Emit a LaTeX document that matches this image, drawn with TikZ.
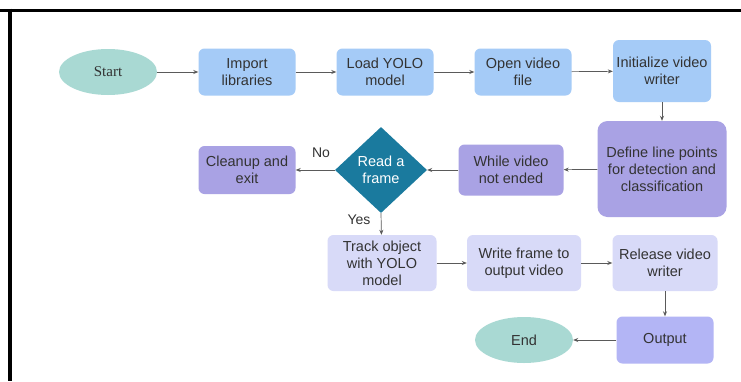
\documentclass[tikz,border=0pt]{standalone}
\usepackage{fontspec}
\setmainfont{Liberation Sans}
\newfontfamily\serifface{Liberation Serif}
\usetikzlibrary{shapes.geometric,arrows.meta}
\definecolor{ellc}{HTML}{A9D9D3}
\definecolor{bluec}{HTML}{A5CBF7}
\definecolor{purc}{HTML}{A9A2E4}
\definecolor{diac}{HTML}{1A7A9E}
\definecolor{lavc}{HTML}{D8DAF8}
\definecolor{outc}{HTML}{B3B5F5}
\definecolor{txt}{HTML}{333333}
\definecolor{linec}{HTML}{5A5A5A}
\tikzset{
  box/.style={rectangle, rounded corners=6pt, draw=none, align=center, text=txt,
    font=\fontsize{14.5}{17}\selectfont, inner sep=0pt},
  ell/.style={ellipse, fill=ellc, draw=none, text=txt, inner sep=0pt,
    minimum width=98pt, minimum height=46pt, font=\fontsize{14.5}{17}\selectfont},
  conn/.style={draw=linec, line width=0.7pt, -{Stealth[length=5pt,width=4pt]}},
  lbl/.style={text=txt, font=\fontsize{14}{17}\selectfont}
}
\begin{document}
\begin{tikzpicture}[x=1pt,y=-1pt]
\useasboundingbox (0,0) rectangle (741,381);
\fill[white] (0,0) rectangle (741,381);
% frame
\draw[black, line width=3.8pt] (0,10.5) -- (741,10.5);
\draw[black, line width=3.8pt] (10,8.6) -- (10,381);
% nodes
\node[ell, font=\serifface\fontsize{15}{17}\selectfont] (start) at (108,72) {Start};
\node[box, fill=bluec, minimum width=97pt, minimum height=47pt] (imp) at (247,72) {Import\\libraries};
\node[box, fill=bluec, minimum width=97pt, minimum height=47pt] (load) at (385,72) {Load YOLO\\model};
\node[box, fill=bluec, minimum width=97pt, minimum height=47pt] (open) at (523,72) {Open video\\file};
\node[box, fill=bluec, minimum width=98pt, minimum height=62pt] (init) at (662,71) {Initialize video\\writer};
\node[box, fill=purc, minimum width=129pt, minimum height=96pt, rounded corners=10pt] (def) at (662,169) {Define line points\\for detection and\\classification};
\node[box, fill=purc, minimum width=105pt, minimum height=51pt] (while) at (511,170) {While video\\not ended};
\node[diamond, fill=diac, text=white, inner sep=0pt, minimum width=92pt, minimum height=86pt,
  align=center, font=\fontsize{14.5}{17}\selectfont] (read) at (381,170) {Read a\\frame};
\node[box, fill=purc, minimum width=97pt, minimum height=48pt] (clean) at (247,170) {Cleanup and\\exit};
\node[box, fill=lavc, minimum width=109pt, minimum height=56pt] (track) at (382,263) {Track object\\with YOLO\\model};
\node[box, fill=lavc, minimum width=114pt, minimum height=56pt] (write) at (524,263) {Write frame to\\output video};
\node[box, fill=lavc, minimum width=105pt, minimum height=56pt] (rel) at (665,263) {Release video\\writer};
\node[box, fill=outc, minimum width=97pt, minimum height=47pt] (out) at (665,340) {Output};
\node[ell] (end) at (524,340) {End};
% connectors
\draw[conn] (start) -- (imp);
\draw[conn] (imp) -- (load);
\draw[conn] (load) -- (open);
\draw[conn] (open) -- (init);
\draw[conn] (init) -- (def);
\draw[conn] (def) -- (while);
\draw[conn] (while) -- (read);
\draw[conn] (read) -- (clean);
\draw[conn] (read.south) -- (track);
\draw[conn] (track) -- (write);
\draw[conn] (write) -- (rel);
\draw[conn] (rel) -- (out);
\draw[conn] (out) -- (end);
% labels
\node[lbl] (no) at (321,153) {No};
\node[lbl] (yes) at (359,220) {Yes};
\end{tikzpicture}
\end{document}
